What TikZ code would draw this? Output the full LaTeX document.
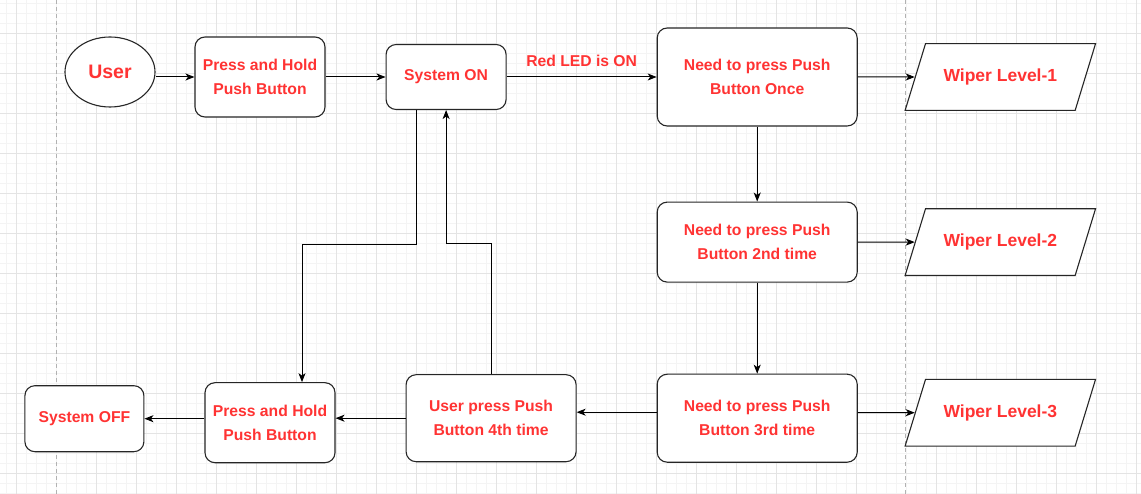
\documentclass[tikz,border=0pt]{standalone}
\usepackage{fontspec}
\setmainfont{Liberation Sans}
\usetikzlibrary{arrows.meta}
\usetikzlibrary{positioning}
\usetikzlibrary{shapes.geometric}
\definecolor{txtred}{RGB}{255,51,51}
\definecolor{finegrey}{RGB}{244,244,244}
\definecolor{maingrey}{RGB}{228,228,228}

\begin{document}
\begin{tikzpicture}
    [x=1pt, y=-1pt,
     minorline/.style={draw=finegrey, line width=0.8pt},
     majorline/.style={draw=maingrey, line width=0.9pt},
     procbox/.style={rectangle, rounded corners=10pt, draw=black!85, fill=white, line width=1.1pt, align=center, text=txtred, font=\fontsize{15.7}{24}\selectfont\bfseries},
     wiper/.style={trapezium, trapezium left angle=73, trapezium right angle=107, draw=black!85, fill=white, line width=1.1pt, inner xsep=18pt, inner ysep=25.2pt, text=txtred, font=\fontsize{17.5}{21}\selectfont\bfseries},
     usr/.style={ellipse, draw=black!85, fill=white, line width=1.1pt, minimum width=90pt, minimum height=70pt, text=txtred, font=\fontsize{19.5}{23}\selectfont\bfseries},
     arr/.style={-{Stealth[length=9pt, width=7pt, inset=2.5pt]}, line width=1pt, black}]

    \useasboundingbox [fill=white] (0,0) rectangle (1141,494);
    \foreach \gx in {6,16,...,1136} \draw [minorline] (\gx,0) -- (\gx,494);
    \foreach \gy in {3,13,...,493} \draw [minorline] (0,\gy) -- (1141,\gy);
    \foreach \gx in {16,96,136,...,856,936,976,...,1136} \draw [majorline] (\gx,0) -- (\gx,494);
    \foreach \gy in {33,73,...,473} \draw [majorline] (0,\gy) -- (1141,\gy);
    \draw [gray!60, line width=0.8pt, dash pattern=on 4pt off 3pt] (56,0) -- (56,494);
    \draw [gray!60, line width=0.8pt, dash pattern=on 4pt off 3pt] (905,0) -- (905,494);

    \node [usr] (user) at (110,72) {User};
    \node [procbox, minimum width=130pt, minimum height=80pt] (hold) at (260,77) {Press and Hold\\Push Button};
    \node [procbox, right=60pt of hold, minimum width=120pt, minimum height=65pt] (syson) {System ON};
    \node [procbox, right=150pt of syson, minimum width=200pt, minimum height=98pt] (once) {Need to press Push\\Button Once};
    \node [wiper, right=57pt of once] (wone) {Wiper Level-1};
    \node [procbox, below=75pt of once, minimum width=200pt, minimum height=80pt] (second) {Need to press Push\\Button 2nd time};
    \node [wiper, right=57pt of second] (wtwo) {Wiper Level-2};
    \node [procbox, below=91pt of second, minimum width=200pt, minimum height=88pt] (third) {Need to press Push\\Button 3rd time};
    \node [wiper, right=57pt of third, yshift=5.5pt] (wthree) {Wiper Level-3};
    \node [procbox, left=80pt of third, minimum width=170pt, minimum height=87pt] (fourth) {User press Push\\Button 4th time};
    \node [procbox, left=70pt of fourth, minimum width=130pt, minimum height=80pt, yshift=-4.5pt] (holdb) {Press and Hold\\Push Button};
    \node [procbox, left=60pt of holdb, minimum width=119pt, minimum height=66pt, yshift=4pt] (sysoff) {System OFF};

    \draw [arr] (user.east |- hold.west) -- (hold.west);
    \draw [arr] (hold) -- (syson);
    \draw [arr] (syson) -- node [above=7pt, text=txtred, font=\fontsize{15.7}{19}\selectfont\bfseries] (led) {Red LED is ON} (once);
    \draw [arr] (once) -- (wone);
    \draw [arr] (once) -- (second);
    \draw [arr] (second) -- (wtwo);
    \draw [arr] (second) -- (third);
    \draw [arr] (third.east |- wthree) -- (wthree);
    \draw [arr] ([yshift=6pt]third.west) -- ([yshift=6pt]third.west -| fourth.east);
    \draw [arr] (fourth.west) -- (fourth.west -| holdb.east);
    \draw [arr] (holdb.west |- sysoff) -- (sysoff);
    \draw [arr] ([xshift=-30pt]syson.south) -- ++(0,134) -| ([xshift=32pt]holdb.north);
    \draw [arr] (fourth.north) -- ++(0,-131) -| (syson.south);
\end{tikzpicture}
\end{document}
